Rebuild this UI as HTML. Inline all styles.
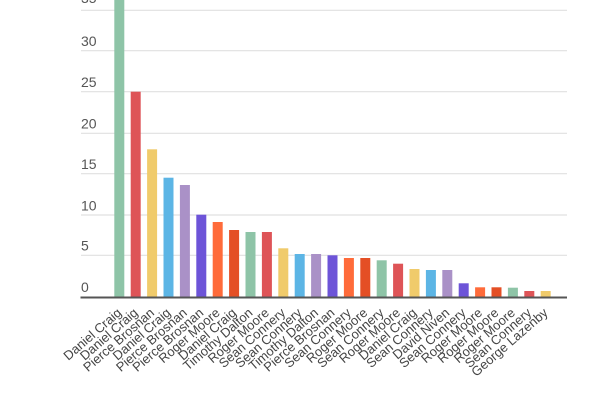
<!DOCTYPE html>
<html>
<head>
<meta charset="utf-8">
<style>
html,body{margin:0;padding:0;background:#fff;}
svg{display:block;}
text{font-family:"Liberation Sans",Arial,sans-serif;}
</style>
</head>
<body>
<svg width="600" height="400" viewBox="0 0 600 400" xmlns="http://www.w3.org/2000/svg">
<rect width="600" height="400" fill="#fff"/>
<g stroke="#e0e0e0" stroke-width="1.2">
<line x1="81" y1="10.3" x2="567" y2="10.3"/>
<line x1="81" y1="50.7" x2="567" y2="50.7"/>
<line x1="81" y1="91.7" x2="567" y2="91.7"/>
<line x1="81" y1="133.3" x2="567" y2="133.3"/>
<line x1="81" y1="173.7" x2="567" y2="173.7"/>
<line x1="81" y1="215" x2="567" y2="215"/>
<line x1="81" y1="255.3" x2="567" y2="255.3"/>
</g>
<g font-size="14" fill="#555">
<text x="81" y="3">35</text>
<text x="81" y="46">30</text>
<text x="81" y="87">25</text>
<text x="81" y="128.7">20</text>
<text x="81" y="169">15</text>
<text x="81" y="210.3">10</text>
<text x="81" y="250.7">5</text>
<text x="81" y="292">0</text>
</g>
<g>
<rect x="114.3" y="0" width="10" height="296.7" fill="#8ec4a7"/>
<rect x="130.7" y="91.7" width="10" height="205" fill="#de5457"/>
<rect x="147.1" y="149.3" width="10" height="147.4" fill="#f0cb6b"/>
<rect x="163.5" y="177.7" width="10" height="119" fill="#5cb5e5"/>
<rect x="179.9" y="185" width="10" height="111.7" fill="#aa91c7"/>
<rect x="196.3" y="214.7" width="10" height="82" fill="#6d54d8"/>
<rect x="212.7" y="222" width="10" height="74.7" fill="#ff6b3a"/>
<rect x="229.1" y="230" width="10" height="66.7" fill="#e44f25"/>
<rect x="245.5" y="232" width="10" height="64.7" fill="#8ec4a7"/>
<rect x="261.9" y="232" width="10" height="64.7" fill="#de5457"/>
<rect x="278.3" y="248.3" width="10" height="48.4" fill="#f0cb6b"/>
<rect x="294.7" y="254" width="10" height="42.7" fill="#5cb5e5"/>
<rect x="311.1" y="254" width="10" height="42.7" fill="#aa91c7"/>
<rect x="327.5" y="255.3" width="10" height="41.4" fill="#6d54d8"/>
<rect x="343.9" y="258" width="10" height="38.7" fill="#ff6b3a"/>
<rect x="360.3" y="258" width="10" height="38.7" fill="#e44f25"/>
<rect x="376.7" y="260.3" width="10" height="36.4" fill="#8ec4a7"/>
<rect x="393.1" y="263.7" width="10" height="33" fill="#de5457"/>
<rect x="409.5" y="269" width="10" height="27.7" fill="#f0cb6b"/>
<rect x="425.9" y="270" width="10" height="26.7" fill="#5cb5e5"/>
<rect x="442.3" y="270" width="10" height="26.7" fill="#aa91c7"/>
<rect x="458.7" y="283.3" width="10" height="13.4" fill="#6d54d8"/>
<rect x="475.1" y="287.3" width="10" height="9.4" fill="#ff6b3a"/>
<rect x="491.5" y="287.3" width="10" height="9.4" fill="#e44f25"/>
<rect x="507.9" y="287.7" width="10" height="9" fill="#8ec4a7"/>
<rect x="524.3" y="291" width="10" height="5.7" fill="#de5457"/>
<rect x="540.7" y="291" width="10" height="5.7" fill="#f0cb6b"/>
</g>
<rect x="80.5" y="296.5" width="486.5" height="2" fill="#555"/>
<g font-size="13" fill="#444" text-anchor="end">
<text transform="translate(122.3,314) rotate(-41)">Daniel Craig</text>
<text transform="translate(138.7,314) rotate(-41)">Daniel Craig</text>
<text transform="translate(155.1,314) rotate(-41)">Pierce Brosnan</text>
<text transform="translate(171.5,314) rotate(-41)">Daniel Craig</text>
<text transform="translate(187.9,314) rotate(-41)">Pierce Brosnan</text>
<text transform="translate(204.3,314) rotate(-41)">Pierce Brosnan</text>
<text transform="translate(220.7,314) rotate(-41)">Roger Moore</text>
<text transform="translate(237.1,314) rotate(-41)">Daniel Craig</text>
<text transform="translate(253.5,314) rotate(-41)">Timothy Dalton</text>
<text transform="translate(269.9,314) rotate(-41)">Roger Moore</text>
<text transform="translate(286.3,314) rotate(-41)">Sean Connery</text>
<text transform="translate(302.7,314) rotate(-41)">Sean Connery</text>
<text transform="translate(319.1,314) rotate(-41)">Timothy Dalton</text>
<text transform="translate(335.5,314) rotate(-41)">Pierce Brosnan</text>
<text transform="translate(351.9,314) rotate(-41)">Sean Connery</text>
<text transform="translate(368.3,314) rotate(-41)">Roger Moore</text>
<text transform="translate(384.7,314) rotate(-41)">Sean Connery</text>
<text transform="translate(401.1,314) rotate(-41)">Roger Moore</text>
<text transform="translate(417.5,314) rotate(-41)">Daniel Craig</text>
<text transform="translate(433.9,314) rotate(-41)">Sean Connery</text>
<text transform="translate(450.3,314) rotate(-41)">David Niven</text>
<text transform="translate(466.7,314) rotate(-41)">Sean Connery</text>
<text transform="translate(483.1,314) rotate(-41)">Roger Moore</text>
<text transform="translate(499.5,314) rotate(-41)">Roger Moore</text>
<text transform="translate(515.9,314) rotate(-41)">Roger Moore</text>
<text transform="translate(532.3,314) rotate(-41)">Sean Connery</text>
<text transform="translate(548.7,314) rotate(-41)">George Lazenby</text>
</g>
</svg>
</body>
</html>
